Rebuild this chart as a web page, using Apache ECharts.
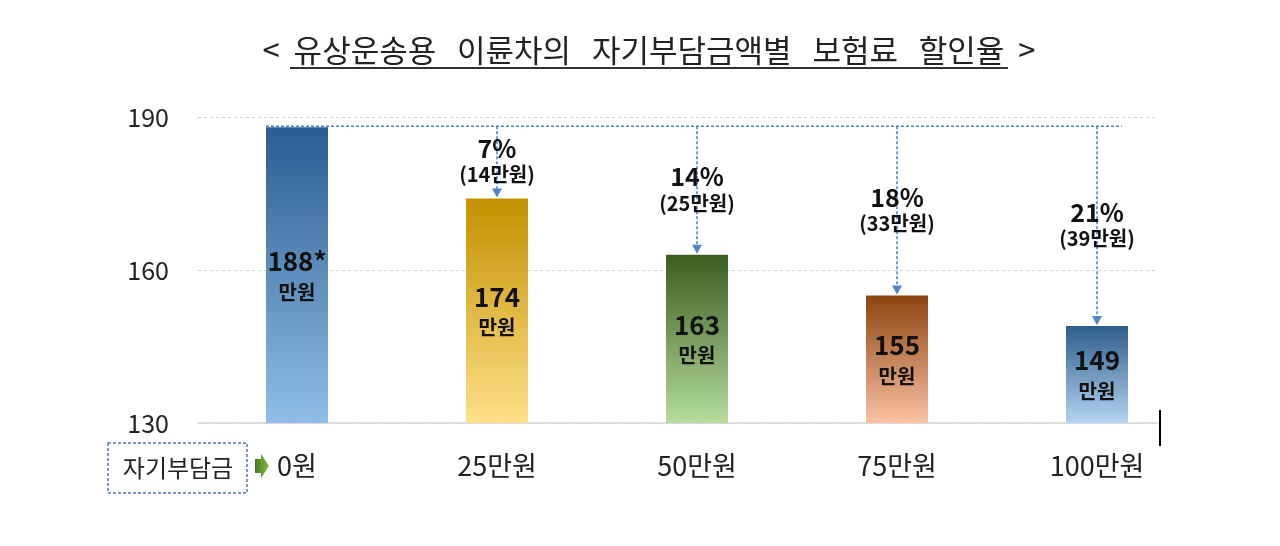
<!DOCTYPE html>
<html>
<head>
<meta charset="utf-8">
<style>
  html, body { margin: 0; padding: 0; background: #fff; }
  #chart { width: 1280px; height: 546px; }
</style>
<script src="https://cdn.jsdelivr.net/npm/echarts@6/dist/echarts.min.js"></script>
</head>
<body>
<div id="chart"></div>
<script>
// 자기부담금 구간
const categories = ["0원", "25만원", "50만원", "75만원", "100만원"];
// 보험료 (만원)
const premiums = [188, 174, 163, 155, 149];
const premiumNotes = ["*", "", "", "", ""];
// 할인율 (%) / 할인액 (만원)
const discountPct = [null, 7, 14, 18, 21];
const discountAmt = [null, 14, 25, 33, 39];
const yTicks = [130, 160, 190];

const FONT = '"Noto Sans CJK KR", "Noto Sans", sans-serif';
const barColors = [
  ["#2a5d91", "#8fbde6"],
  ["#c29100", "#ffe089"],
  ["#3a5d21", "#b6dd9b"],
  ["#8d4410", "#fac2a2"],
  ["#2e5d8c", "#b4d4f0"]
];
const ARROW = "#4f86c9";

const chart = echarts.init(document.getElementById("chart"));

function renderArrows(params, api) {
  const i = params.dataIndex;
  const base = api.coord([0, premiums[0]]);
  const half = api.size([1, 0])[0] * 0.155;
  const lineStyle = { stroke: ARROW, lineWidth: 1.6, lineDash: [3, 2] };
  if (i === 0) {
    const last = api.coord([categories.length - 1, premiums[0]]);
    return {
      type: "line",
      shape: { x1: base[0] - half, y1: base[1] - 1, x2: last[0] + half * 0.8, y2: base[1] - 1 },
      style: lineStyle
    };
  }
  const top = api.coord([i, premiums[0]]);
  const bot = api.coord([i, premiums[i]]);
  const x = top[0];
  const y0 = top[1] - 1;
  const y1 = bot[1] - 1;
  const mid = (y0 + y1) / 2;
  return {
    type: "group",
    children: [
      { type: "line", shape: { x1: x, y1: y0, x2: x, y2: y1 - 8 }, style: lineStyle },
      { type: "polygon", shape: { points: [[x - 5, y1 - 9], [x + 5, y1 - 9], [x, y1]] }, style: { fill: ARROW } },
      {
        type: "text",
        style: {
          text: discountPct[i] + "%", x: x, y: mid - 13, align: "center", verticalAlign: "middle",
          font: "bold 25px " + FONT, fill: "#111"
        }
      },
      {
        type: "text",
        style: {
          text: "(" + discountAmt[i] + "만원)", x: x, y: mid + 13, align: "center", verticalAlign: "middle",
          font: "bold 20px " + FONT, fill: "#111"
        }
      }
    ]
  };
}

chart.setOption({
  animation: false,
  grid: [
    { left: 198, right: 122, top: 117, bottom: 123 },
    { left: 197, right: 83, top: 117, bottom: 123 }
  ],
  xAxis: [
    {
      gridIndex: 0, type: "category", data: categories,
      axisLine: { lineStyle: { color: "#d6d6d6", width: 1.5 } },
      axisTick: { show: false }, axisLabel: { show: false }
    },
    {
      gridIndex: 1, type: "category", data: categories,
      axisLine: { show: false }, axisTick: { show: false },
      axisLabel: { margin: 29, fontFamily: FONT, fontSize: 27, color: "#222" }
    }
  ],
  yAxis: [
    {
      gridIndex: 0, type: "value", min: yTicks[0], max: yTicks[yTicks.length - 1], interval: 30,
      axisLine: { show: false }, axisTick: { show: false },
      axisLabel: { margin: 29, fontFamily: FONT, fontSize: 25, color: "#222" },
      splitLine: { lineStyle: { color: "#d2d2d2", type: [3, 3], width: 1 } }
    },
    {
      gridIndex: 1, type: "value", min: yTicks[0], max: yTicks[yTicks.length - 1],
      show: false, splitLine: { show: false }
    }
  ],
  series: [
    {
      type: "bar",
      xAxisIndex: 1, yAxisIndex: 1,
      barWidth: "31%",
      data: premiums.map((v, i) => ({
        value: v,
        itemStyle: {
          color: new echarts.graphic.LinearGradient(0, 0, 0, 1, [
            { offset: 0, color: barColors[i][0] },
            { offset: 1, color: barColors[i][1] }
          ])
        }
      })),
      label: {
        show: true,
        position: "inside",
        formatter: (p) => "{n|" + p.value + premiumNotes[p.dataIndex] + "}\n{u|만원}",
        rich: {
          n: { fontFamily: FONT, fontSize: 26, fontWeight: "bold", color: "#111", lineHeight: 34 },
          u: { fontFamily: FONT, fontSize: 20, fontWeight: "bold", color: "#111", lineHeight: 28 }
        }
      },
      z: 2
    },
    {
      type: "custom",
      xAxisIndex: 1, yAxisIndex: 1,
      data: premiums.map((v, i) => [i, v]),
      renderItem: renderArrows,
      silent: true,
      z: 3
    }
  ],
  graphic: [
    {
      type: "text",
      style: {
        text: "<  유상운송용   이륜차의   자기부담금액별   보험료   할인율  >",
        x: 649, y: 50, align: "center", verticalAlign: "middle",
        font: "31px " + FONT, fill: "#222"
      }
    },
    { type: "line", shape: { x1: 290, y1: 68, x2: 1008, y2: 68 }, style: { stroke: "#333", lineWidth: 2 } },
    {
      type: "rect", shape: { x: 108, y: 443, width: 139, height: 50 },
      style: { fill: "none", stroke: "#5a74a6", lineWidth: 1.5, lineDash: [3, 2] }
    },
    {
      type: "text",
      style: { text: "자기부담금", x: 178, y: 468, align: "center", verticalAlign: "middle", font: "24px " + FONT, fill: "#222" }
    },
    {
      type: "polygon",
      shape: { points: [[255, 459], [261, 459], [261, 454], [269, 466], [261, 478], [261, 473], [255, 473]] },
      style: {
        fill: new echarts.graphic.LinearGradient(0, 0, 1, 0, [
          { offset: 0, color: "#4b7a1f" },
          { offset: 1, color: "#86b845" }
        ])
      }
    },
    { type: "line", shape: { x1: 1160, y1: 410, x2: 1160, y2: 446 }, style: { stroke: "#000", lineWidth: 2 } }
  ]
});
</script>
</body>
</html>
